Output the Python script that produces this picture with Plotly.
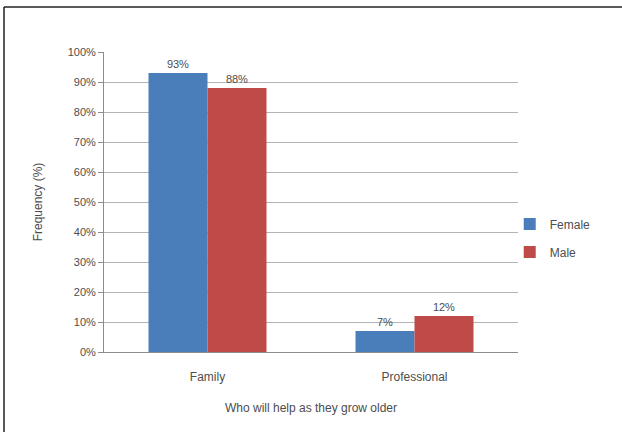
import plotly.graph_objects as go

categories = ["Family", "Professional"]
female = [93, 7]
male = [88, 12]
y_ticks = [0, 10, 20, 30, 40, 50, 60, 70, 80, 90, 100]
y_tick_labels = [f"{v}%" for v in y_ticks]

text_color = "#4d4d4d"
font_family = "Liberation Sans, Arial, sans-serif"

fig = go.Figure()
fig.add_trace(go.Bar(
    name="Female", x=categories, y=female, legendgroup="f",
    marker=dict(color="#4A7EBB", line=dict(width=0)),
    text=[f"{v}%" for v in female], textposition="outside",
    textfont=dict(size=11, color=text_color), cliponaxis=False,
))
fig.add_trace(go.Bar(
    name="Male", x=categories, y=male, legendgroup="m",
    marker=dict(color="#BE4B48", line=dict(width=0)),
    text=[f"{v}%" for v in male], textposition="outside",
    textfont=dict(size=11, color=text_color), cliponaxis=False,
))

fig.update_layout(
    width=622, height=432,
    margin=dict(l=104, r=104, t=52, b=80),
    paper_bgcolor="white", plot_bgcolor="white",
    barmode="group", bargap=0.43, bargroupgap=0,
    font=dict(family=font_family, size=11, color=text_color),
    showlegend=True,
    legend=dict(x=0.98, y=0.38, xanchor="left", yanchor="middle",
                font=dict(size=12, color=text_color), itemwidth=30,
                tracegroupgap=9, bgcolor="rgba(0,0,0,0)"),
    xaxis=dict(
        title=dict(text="Who will help as they grow older", standoff=20,
                   font=dict(size=12, color=text_color)),
        showline=True, linecolor="#8c8c8c", linewidth=1,
        ticks="", ticklabelstandoff=14,
        tickfont=dict(size=12, color=text_color),
        showgrid=False,
    ),
    yaxis=dict(
        title=dict(text="Frequency (%)", standoff=22,
                   font=dict(size=12, color=text_color)),
        range=[0, 100], tickvals=y_ticks, ticktext=y_tick_labels,
        showline=True, linecolor="#8c8c8c", linewidth=1,
        ticks="outside", ticklen=5, tickcolor="#8c8c8c",
        showgrid=True, gridcolor="#b4b4b4", gridwidth=1,
        zeroline=False, tickfont=dict(size=11, color=text_color),
    ),
    shapes=[
        dict(type="line", xref="paper", yref="paper",
             x0=-0.2415, x1=1.3, y0=1.15, y1=1.15,
             line=dict(color="#222222", width=1.5)),
        dict(type="line", xref="paper", yref="paper",
             x0=-0.2415, x1=-0.2415, y0=1.15, y1=-0.27,
             line=dict(color="#222222", width=1.5)),
    ],
)

fig.write_html("out.html")
